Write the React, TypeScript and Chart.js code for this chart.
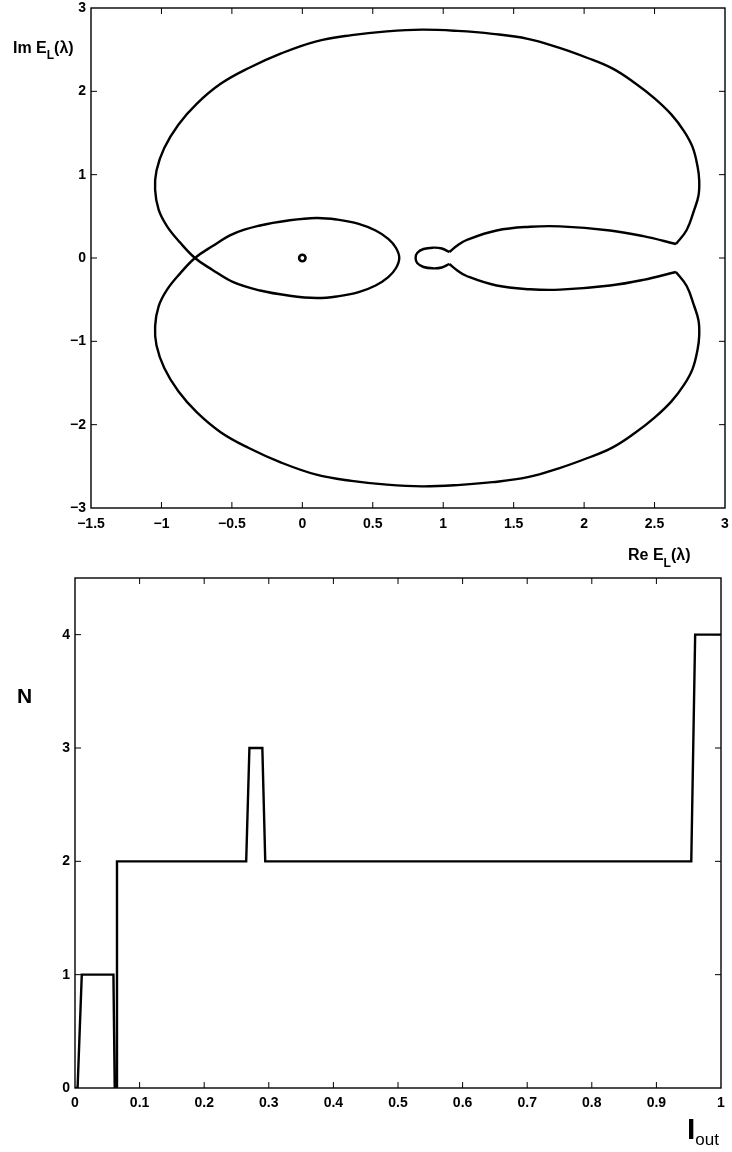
import React, { useEffect, useRef } from "react";
import { Chart, registerables } from "chart.js";

Chart.register(...registerables);

// ---------- Top plot: E_L(lambda) curve in the complex plane ----------
// main curve: upper-right corner -> outer top -> left side -> crossing -> inner loop -> crossing -> outer bottom -> lower-right corner
const mainRe = [
  2.652, 2.728, 2.78, 2.812, 2.817, 2.805, 2.77, 2.71, 2.62, 2.5, 2.36, 2.2, 2.02, 1.82, 1.6, 1.35, 1.1, 0.85, 0.6, 0.35, 0.1, -0.15, -0.38, -0.58, -0.75, -0.88, -0.98, -1.035, -1.045, -1.02, -0.96, -0.87, -0.762,
  -0.64, -0.49, -0.3, -0.1, 0.1, 0.25, 0.4, 0.52, 0.61, 0.665, 0.688, 0.665, 0.61, 0.52, 0.4, 0.25, 0.1, -0.1, -0.3, -0.49, -0.64, -0.762,
  -0.87, -0.96, -1.02, -1.045, -1.035, -0.98, -0.88, -0.75, -0.58, -0.38, -0.15, 0.1, 0.35, 0.6, 0.85, 1.1, 1.35, 1.6, 1.82, 2.02, 2.2, 2.36, 2.5, 2.62, 2.71, 2.77, 2.805, 2.817, 2.812, 2.78, 2.728, 2.652,
];
const mainIm = [
  0.168, 0.336, 0.57, 0.75, 0.93, 1.1, 1.33, 1.52, 1.72, 1.915, 2.1, 2.275, 2.403, 2.524, 2.63, 2.69, 2.725, 2.74, 2.72, 2.675, 2.6, 2.455, 2.28, 2.09, 1.85, 1.6, 1.32, 1.05, 0.82, 0.58, 0.38, 0.19, 0,
  -0.14, -0.29, -0.39, -0.45, -0.48, -0.46, -0.41, -0.33, -0.23, -0.12, 0, 0.12, 0.23, 0.33, 0.41, 0.46, 0.48, 0.45, 0.39, 0.29, 0.14, 0,
  -0.19, -0.38, -0.58, -0.82, -1.05, -1.32, -1.6, -1.85, -2.09, -2.28, -2.455, -2.6, -2.675, -2.72, -2.74, -2.725, -2.69, -2.63, -2.524, -2.403, -2.275, -2.1, -1.915, -1.72, -1.52, -1.33, -1.1, -0.93, -0.75, -0.57, -0.336, -0.168,
];

// small loop near Re = 0.9
const loopRe = [1.043, 0.99, 0.93, 0.86, 0.815, 0.804, 0.815, 0.86, 0.93, 0.99, 1.043];
const loopIm = [0.072, 0.114, 0.124, 0.108, 0.06, 0, -0.06, -0.108, -0.124, -0.114, -0.072];

// branch from upper cusp to upper-right corner
const upperRe = [1.043, 1.1, 1.166, 1.379, 1.616, 1.829, 2.184, 2.42, 2.652];
const upperIm = [0.072, 0.15, 0.216, 0.33, 0.375, 0.38, 0.33, 0.262, 0.168];

// branch from lower cusp to lower-right corner
const lowerRe = [1.043, 1.1, 1.166, 1.379, 1.616, 1.829, 2.184, 2.42, 2.652];
const lowerIm = [-0.072, -0.15, -0.216, -0.33, -0.375, -0.38, -0.33, -0.262, -0.168];

// marked point at the origin
const originRe = [0];
const originIm = [0];

const reTicks = { min: -1.5, max: 3, step: 0.5 };
const imTicks = { min: -3, max: 3, step: 1 };

// ---------- Bottom plot: N versus I_out ----------
const iOut = [0, 0.004, 0.0105, 0.0595, 0.0615, 0.0635, 0.065, 0.265, 0.27, 0.29, 0.2945, 0.954, 0.96, 1];
const nVals = [0, 0, 1, 1, 0, 0, 2, 2, 3, 3, 2, 2, 4, 4];

const iTicks = { min: 0, max: 1, step: 0.1 };
const nTicks = { min: 0, max: 4.5, step: 1 };

const FONT = "'Liberation Sans', Arial, Helvetica, sans-serif";

const pts = (xs: number[], ys: number[]) => xs.map((x, i) => ({ x, y: ys[i] }));

const fmt = (v: number) => String(+Number(v).toFixed(2)).replace("-", "\u2212");

const frameTicks = {
  id: "frameTicks",
  afterDraw(chart: any) {
    const { ctx, chartArea: a, scales } = chart;
    ctx.save();
    ctx.strokeStyle = "#000";
    ctx.lineWidth = 1.4;
    ctx.strokeRect(a.left, a.top, a.right - a.left, a.bottom - a.top);
    const len = 6;
    ctx.lineWidth = 1;
    ctx.beginPath();
    scales.x.ticks.forEach((t: any) => {
      const p = scales.x.getPixelForValue(t.value);
      if (p <= a.left + 1 || p >= a.right - 1) return;
      ctx.moveTo(p, a.bottom);
      ctx.lineTo(p, a.bottom - len);
      ctx.moveTo(p, a.top);
      ctx.lineTo(p, a.top + len);
    });
    scales.y.ticks.forEach((t: any) => {
      const p = scales.y.getPixelForValue(t.value);
      if (p <= a.top + 1 || p >= a.bottom - 1) return;
      ctx.moveTo(a.left, p);
      ctx.lineTo(a.left + len, p);
      ctx.moveTo(a.right, p);
      ctx.lineTo(a.right - len, p);
    });
    ctx.stroke();
    ctx.restore();
  },
};

function drawRuns(ctx: CanvasRenderingContext2D, x: number, y: number, runs: { t: string; size: number; weight: string; dy: number }[]) {
  let cx = x;
  runs.forEach((r) => {
    ctx.font = `${r.weight} ${r.size}px ${FONT}`;
    ctx.fillText(r.t, cx, y + r.dy);
    cx += ctx.measureText(r.t).width;
  });
}

function makeTitles(id: string, draw: (ctx: CanvasRenderingContext2D) => void) {
  return {
    id,
    afterDraw(chart: any) {
      const ctx = chart.ctx;
      ctx.save();
      ctx.fillStyle = "#000";
      ctx.textBaseline = "alphabetic";
      ctx.textAlign = "left";
      draw(ctx);
      ctx.restore();
    },
  };
}

const onlySteps = (step: number, base: number) => (scale: any) => {
  scale.ticks = scale.ticks.filter((t: any) => {
    const k = (t.value - base) / step;
    return Math.abs(k - Math.round(k)) < 1e-6;
  });
};

const fitX = (h: number) => (s: any) => {
  s.height = h;
  s.paddingLeft = 0;
  s.paddingRight = 0;
};
const fitY = (w: number) => (s: any) => {
  s.width = w;
  s.paddingTop = 0;
  s.paddingBottom = 0;
};

const tickFont = { family: FONT, size: 14, weight: "bold" as const };

export default function App() {
  const topRef = useRef<HTMLCanvasElement>(null);
  const botRef = useRef<HTMLCanvasElement>(null);

  useEffect(() => {
    const lineDs = (label: string, xs: number[], ys: number[]) => ({
      label,
      data: pts(xs, ys),
      showLine: true,
      borderColor: "#000",
      backgroundColor: "#000",
      borderWidth: 2.4,
      pointRadius: 0,
      tension: 0.4,
    });

    const top = new Chart(topRef.current as HTMLCanvasElement, {
      type: "scatter",
      data: {
        datasets: [
          lineDs("main", mainRe, mainIm),
          lineDs("loop", loopRe, loopIm),
          lineDs("upper", upperRe, upperIm),
          lineDs("lower", lowerRe, lowerIm),
          {
            label: "origin",
            data: pts(originRe, originIm),
            showLine: false,
            pointRadius: 3.2,
            pointBorderWidth: 2.6,
            borderColor: "#000",
            backgroundColor: "#fff",
            pointBackgroundColor: "#fff",
            pointBorderColor: "#000",
          } as any,
        ],
      },
      options: {
        responsive: false,
        animation: false,
        devicePixelRatio: 1,
        layout: { padding: { left: 0, top: 8, right: 7, bottom: 0 } },
        plugins: { legend: { display: false }, tooltip: { enabled: false } },
        scales: {
          x: {
            type: "linear",
            min: reTicks.min,
            max: reTicks.max,
            grid: { display: false, drawTicks: false },
            border: { display: false },
            ticks: { stepSize: reTicks.step, font: tickFont, color: "#000", padding: 8, autoSkip: false, maxRotation: 0, callback: (v: any) => fmt(v) },
            afterBuildTicks: onlySteps(reTicks.step, reTicks.min),
            afterFit: fitX(62),
          },
          y: {
            type: "linear",
            min: imTicks.min,
            max: imTicks.max,
            grid: { display: false, drawTicks: false },
            border: { display: false },
            ticks: { stepSize: imTicks.step, font: tickFont, color: "#000", padding: 5, autoSkip: false, callback: (v: any) => fmt(v) },
            afterBuildTicks: onlySteps(imTicks.step, imTicks.min),
            afterFit: fitY(91),
          },
        },
      },
      plugins: [
        frameTicks,
        makeTitles("topTitles", (ctx) => {
          drawRuns(ctx, 13, 53, [
            { t: "Im E", size: 16, weight: "bold", dy: 0 },
            { t: "L", size: 12, weight: "bold", dy: 6 },
            { t: "(\u03bb)", size: 16, weight: "bold", dy: 0 },
          ]);
          drawRuns(ctx, 628, 560, [
            { t: "Re E", size: 16, weight: "bold", dy: 0 },
            { t: "L", size: 12, weight: "bold", dy: 7 },
            { t: "(\u03bb)", size: 16, weight: "bold", dy: 0 },
          ]);
        }),
      ],
    } as any);

    const bot = new Chart(botRef.current as HTMLCanvasElement, {
      type: "scatter",
      data: {
        datasets: [
          {
            label: "N",
            data: pts(iOut, nVals),
            showLine: true,
            borderColor: "#000",
            backgroundColor: "#000",
            borderWidth: 2.4,
            pointRadius: 0,
            tension: 0,
          },
        ],
      },
      options: {
        responsive: false,
        animation: false,
        devicePixelRatio: 1,
        layout: { padding: { left: 0, top: 8, right: 11, bottom: 0 } },
        plugins: { legend: { display: false }, tooltip: { enabled: false } },
        scales: {
          x: {
            type: "linear",
            min: iTicks.min,
            max: iTicks.max,
            grid: { display: false, drawTicks: false },
            border: { display: false },
            ticks: { stepSize: iTicks.step, font: tickFont, color: "#000", padding: 7, autoSkip: false, maxRotation: 0, callback: (v: any) => fmt(v) },
            afterBuildTicks: onlySteps(iTicks.step, iTicks.min),
            afterFit: fitX(64),
          },
          y: {
            type: "linear",
            min: nTicks.min,
            max: nTicks.max,
            grid: { display: false, drawTicks: false },
            border: { display: false },
            ticks: { stepSize: nTicks.step, font: tickFont, color: "#000", padding: 5, autoSkip: false, callback: (v: any) => fmt(v) },
            afterBuildTicks: onlySteps(nTicks.step, nTicks.min),
            afterFit: fitY(75),
          },
        },
      },
      plugins: [
        frameTicks,
        makeTitles("botTitles", (ctx) => {
          drawRuns(ctx, 17, 133, [{ t: "N", size: 21, weight: "bold", dy: 0 }]);
          drawRuns(ctx, 687, 569, [
            { t: "I", size: 30, weight: "bold", dy: 0 },
            { t: "out", size: 17, weight: "normal", dy: 6 },
          ]);
        }),
      ],
    } as any);

    return () => {
      top.destroy();
      bot.destroy();
    };
  }, []);

  return (
    <div style={{ position: "absolute", left: 0, top: 0, width: 732, height: 1152, background: "#fff" }}>
      <canvas ref={topRef} width={732} height={570} style={{ position: "absolute", left: 0, top: 0, width: 732, height: 570 }} />
      <canvas ref={botRef} width={732} height={582} style={{ position: "absolute", left: 0, top: 570, width: 732, height: 582 }} />
    </div>
  );
}
